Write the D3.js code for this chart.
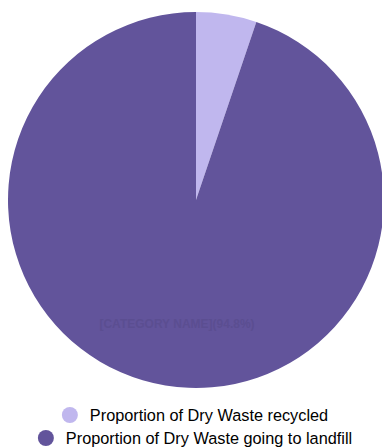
<!DOCTYPE html>
<html><head><meta charset="utf-8">
<script src="https://cdn.jsdelivr.net/npm/d3@7"></script>
<style>html,body{margin:0;padding:0;background:#fff;overflow:hidden}</style>
</head><body>
<svg id="c" width="382" height="447"></svg>
<script>
const categories = ["Proportion of Dry Waste recycled", "Proportion of Dry Waste going to landfill"];
const values = [5.2, 94.8];
const colors = ["#c0b7ee", "#62549b"];

const svg = d3.select("#c");
const cx = 196, cy = 200, R = 188;
const pie = d3.pie().sort(null).value(d => d)(values);
const arc = d3.arc().innerRadius(0).outerRadius(R);
const g = svg.append("g").attr("transform", `translate(${cx},${cy})`);
g.selectAll("path").data(pie).join("path")
  .attr("d", arc).attr("fill", (d,i) => colors[i]);

g.append("text")
  .attr("x", -19).attr("y", 128)
  .attr("text-anchor", "middle")
  .attr("font-family", "Liberation Sans, Arial, sans-serif")
  .attr("font-weight", "bold").attr("font-size", 12)
  .attr("fill", "#5b4e91")
  .text(`[CATEGORY NAME](${values[1]}%)`);

const legendY = [415, 438];
categories.forEach((c, i) => {
  const lg = svg.append("g");
  const t = lg.append("text").attr("font-family", "Liberation Sans, Arial, sans-serif")
    .attr("font-size", 16.3).attr("fill", "#000").attr("y", legendY[i] + 6).text(c);
  const w = t.node().getComputedTextLength();
  const total = 8 + 20 + w;
  const x0 = 195 - total / 2;
  lg.append("circle").attr("cx", x0 + 8).attr("cy", legendY[i]).attr("r", 8).attr("fill", colors[i]);
  t.attr("x", x0 + 28);
});
</script>
</body></html>
